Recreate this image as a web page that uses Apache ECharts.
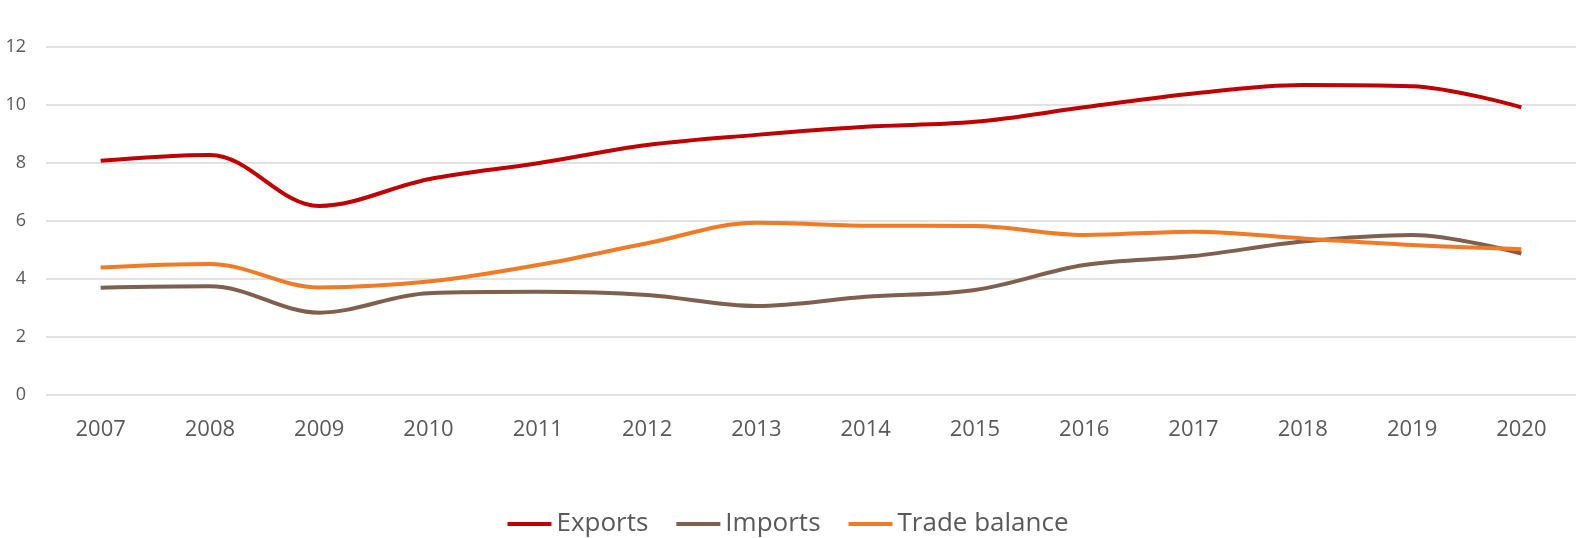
<!DOCTYPE html>
<html>
<head>
<meta charset="utf-8">
<script src="https://cdn.jsdelivr.net/npm/echarts@6/dist/echarts.min.js"></script>
<style>html,body{margin:0;padding:0;background:#fff}#c{width:1576px;height:538px}</style>
</head>
<body>
<div id="c"></div>
<script>
const years = ['2007','2008','2009','2010','2011','2012','2013','2014','2015','2016','2017','2018','2019','2020'];
const exportsData = [8.08, 8.28, 6.52, 7.44, 7.99, 8.62, 8.97, 9.25, 9.42, 9.92, 10.4, 10.69, 10.65, 9.92];
const importsData = [3.70, 3.75, 2.84, 3.51, 3.56, 3.45, 3.07, 3.39, 3.62, 4.48, 4.79, 5.29, 5.52, 4.88];
const balanceData = [4.40, 4.52, 3.71, 3.91, 4.48, 5.23, 5.94, 5.84, 5.83, 5.52, 5.63, 5.40, 5.17, 5.03];
const yTicks = [0, 2, 4, 6, 8, 10, 12];

const chart = echarts.init(document.getElementById('c'));
const font = 'Open Sans, Noto Sans, sans-serif';
function line(name, data, color) {
  return {name, type:'line', data, smooth:0.35, symbol:'none',
    lineStyle:{color, width:4}, itemStyle:{color}};
}
chart.setOption({
  animation:false,
  grid:{left:46, right:-2, top:47, bottom:143},
  legend:{top:506, left:'center', itemWidth:44, itemHeight:4, itemGap:28,
    textStyle:{color:'#595959', fontSize:26, fontFamily:font},
    icon:'rect',
    data:['Exports','Imports','Trade balance']},
  xAxis:{type:'category', data:years, boundaryGap:true,
    axisLine:{show:false}, axisTick:{show:false},
    axisLabel:{color:'#595959', fontSize:22, fontFamily:font, margin:24}},
  yAxis:{type:'value', min:yTicks[0], max:yTicks[yTicks.length-1], interval:2,
    axisLine:{show:false}, axisTick:{show:false},
    splitLine:{lineStyle:{color:'#d9d9d9', width:1.5}},
    axisLabel:{color:'#595959', fontSize:18, fontFamily:font, margin:20}},
  series:[
    line('Exports', exportsData, '#C00000'),
    line('Imports', importsData, '#7F5F4E'),
    line('Trade balance', balanceData, '#F07A26')
  ]
});
</script>
</body>
</html>
